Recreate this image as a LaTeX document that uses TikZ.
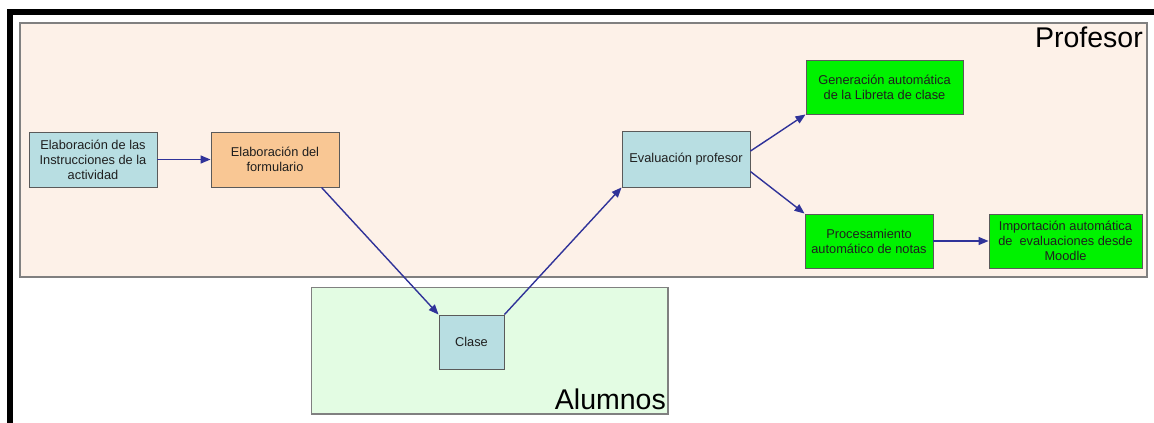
\documentclass[tikz,border=0pt]{standalone}
\usepackage{fontspec}
\setmainfont{Liberation Sans}
\usetikzlibrary{arrows.meta,calc}
\definecolor{profFill}{HTML}{FDF1E8}
\definecolor{alumFill}{HTML}{E3FCE3}
\definecolor{boxBlue}{HTML}{B8DEE2}
\definecolor{boxOrange}{HTML}{F9C794}
\definecolor{boxGreen}{HTML}{00F200}
\definecolor{arrowBlue}{HTML}{303399}
\definecolor{edgeGray}{HTML}{5A5A5A}
\definecolor{regionGray}{HTML}{808080}
\tikzset{
  x=1pt, y=-1pt,
  procbox/.style={draw=edgeGray, line width=0.9pt, inner sep=0pt, align=center,
    font=\fontsize{12.8}{15}\selectfont, text=black!88},
  bluebox/.style={procbox, fill=boxBlue},
  orangebox/.style={procbox, fill=boxOrange},
  greenbox/.style={procbox, fill=boxGreen},
  region/.style={draw=regionGray, line width=1.2pt},
  regionlabel/.style={font=\fontsize{28.5}{30}\selectfont, text=black, inner sep=0pt},
  flow/.style={draw=arrowBlue, line width=1.4pt, -{Triangle[length=10pt,width=8pt]}}
}
\begin{document}
\begin{tikzpicture}
\useasboundingbox (0,0) rectangle (1154,423);
\fill[white] (0,0) rectangle (1154,423);
% black frame
\draw[line width=6pt, line join=miter] (10,430) -- (10,12) -- (1160,12);
% regions
\draw[region, fill=profFill] (20,23) rectangle (1147,277);
\node[regionlabel, anchor=base east] (proflabel) at (1143,47) {Profesor};
\draw[region, fill=alumFill] (311.5,287.5) rectangle (668,414);
\node[regionlabel, anchor=base east] (alumlabel) at (666,409) {Alumnos};
% boxes
\node[bluebox, minimum width=128pt, minimum height=55pt] (inst) at (93,159.5)
  {Elaboración de las\\Instrucciones de la\\actividad};
\node[orangebox, minimum width=128pt, minimum height=55pt] (form) at (275,159.5)
  {Elaboración del\\formulario};
\node[bluebox, minimum width=65pt, minimum height=54pt] (clase) at (471.5,342)
  {Clase};
\node[bluebox, minimum width=128pt, minimum height=56pt] (eval) at (686,159)
  {Evaluación profesor};
\node[greenbox, minimum width=157pt, minimum height=54pt] (gen) at (884.5,87)
  {Generación automática\\de la Libreta de clase};
\node[greenbox, minimum width=128pt, minimum height=54pt] (proc) at (869,241)
  {Procesamiento\\automático de notas};
\node[greenbox, minimum width=153pt, minimum height=54pt] (imp) at (1065.5,241)
  {Importación automática\\de\ \ evaluaciones desde\\Moodle};
% connectors
\draw[flow] (inst.east) -- (form.west);
\draw[flow] (form.-31) -- (clase.north west);
\draw[flow] (clase.north east) -- (eval.south west);
\draw[flow] (eval.7) -- (gen.south west);
\draw[flow] (eval.-11) -- (proc.north west);
\draw[flow] (proc.east) -- (imp.west);
\end{tikzpicture}
\end{document}
